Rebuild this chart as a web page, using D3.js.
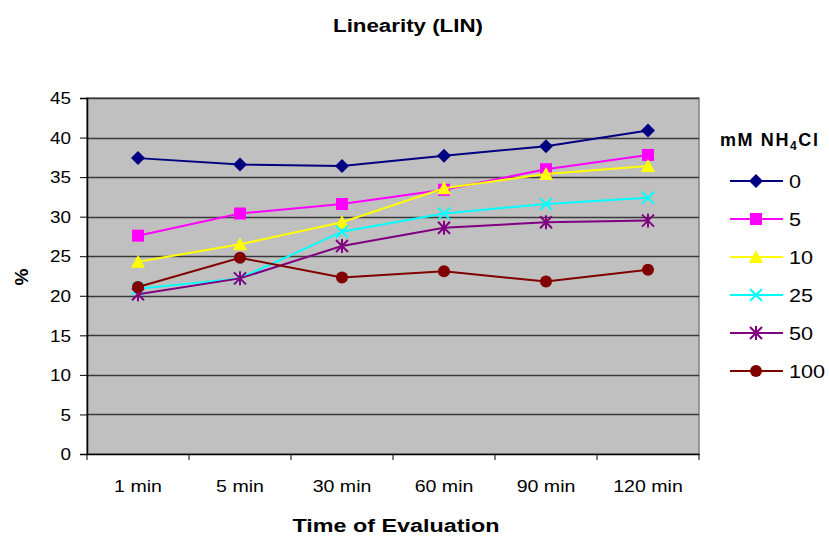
<!DOCTYPE html>
<html><head><meta charset="utf-8">
<script src="https://cdn.jsdelivr.net/npm/d3@7/dist/d3.min.js"></script>
<style>body{margin:0;background:#fff;} svg{display:block;font-family:"Liberation Sans",Arial,sans-serif;}</style>
</head><body><svg id="c" width="829" height="540"></svg>
<script>
const categories = ["1 min","5 min","30 min","60 min","90 min","120 min"];
const seriesNames = ["0","5","10","25","50","100"];
const s0   = [37.4, 36.6, 36.4, 37.7, 38.9, 40.9];
const s5   = [27.6, 30.4, 31.6, 33.4, 36.0, 37.8];
const s10  = [24.3, 26.5, 29.3, 33.6, 35.4, 36.4];
const s25  = [20.9, 22.2, 28.1, 30.4, 31.6, 32.4];
const s50  = [20.2, 22.2, 26.3, 28.6, 29.3, 29.5];
const s100 = [21.1, 24.8, 22.3, 23.1, 21.8, 23.3];
const yTicks = [0,5,10,15,20,25,30,35,40,45];
const colors = ["#000080","#ff00ff","#ffff00","#00ffff","#800080","#800000"];
const markers = ["diamond","square","triangle","x","star","circle"];
const allSeries = [s0,s5,s10,s25,s50,s100];

const svg = d3.select("#c");
const L=87, R=699, T=98, B=454;
const x = d3.scaleBand().domain(categories).range([L,R]);
const y = d3.scaleLinear().domain([0,45]).range([B,T]);

function stretch(sel, f){
  sel.each(function(){
    const w = this.getComputedTextLength();
    d3.select(this).attr("textLength", w*f).attr("lengthAdjust","spacingAndGlyphs");
  });
}

svg.append("text").attr("x",408).attr("y",32).attr("text-anchor","middle")
  .attr("font-weight","bold").attr("font-size",18).attr("textLength",150).attr("lengthAdjust","spacingAndGlyphs")
  .text("Linearity (LIN)");

svg.append("rect").attr("x",L).attr("y",T).attr("width",R-L).attr("height",B-T)
  .attr("fill","#c0c0c0").attr("stroke","#808080").attr("stroke-width",1.5);

svg.append("g").selectAll("line").data(yTicks.filter(d=>d>0)).join("line")
  .attr("x1",L).attr("x2",R).attr("y1",d=>Math.round(y(d))+0.5).attr("y2",d=>Math.round(y(d))+0.5)
  .attr("stroke","#3a3a3a").attr("stroke-width",1.3);

// y axis
const ya = svg.append("g").attr("transform",`translate(${L},0)`)
  .call(d3.axisLeft(y).tickValues(yTicks).tickSize(7).tickPadding(9));
ya.select(".domain").attr("stroke","#000").attr("stroke-width",1.5);
ya.selectAll(".tick line").attr("stroke","#000");
ya.selectAll("text").attr("font-size",16).attr("fill","#000").attr("font-family","Liberation Sans, Arial, sans-serif").attr("dy","0.36em");
stretch(ya.selectAll("text"),1.18);

// x axis
const xa = svg.append("g").attr("transform",`translate(0,${B})`)
  .call(d3.axisBottom(x).tickSize(0).tickPadding(26));
xa.select(".domain").attr("stroke","#000").attr("stroke-width",1.5);
xa.selectAll("text").attr("font-size",17).attr("fill","#000").attr("font-family","Liberation Sans, Arial, sans-serif");
stretch(xa.selectAll("text"),1.15);
const bounds = categories.map(c=>x(c)).concat([R]);
svg.append("g").selectAll("line").data(bounds).join("line")
  .attr("x1",d=>d).attr("x2",d=>d).attr("y1",B).attr("y2",B+6).attr("stroke","#000");

svg.append("text").attr("x",396).attr("y",532).attr("text-anchor","middle")
  .attr("font-weight","bold").attr("font-size",18).attr("textLength",207).attr("lengthAdjust","spacingAndGlyphs")
  .text("Time of Evaluation");
svg.append("text").attr("transform","translate(28,277) rotate(-90)").attr("text-anchor","middle")
  .attr("font-weight","bold").attr("font-size",19).text("%");

function drawMarker(g, type, cx, cy, color){
  const s=6;
  if(type==="diamond") g.append("path").attr("d",`M${cx},${cy-s-1}L${cx+s+1},${cy}L${cx},${cy+s+1}L${cx-s-1},${cy}Z`).attr("fill",color);
  else if(type==="square") g.append("rect").attr("x",cx-s).attr("y",cy-s).attr("width",2*s).attr("height",2*s).attr("fill",color);
  else if(type==="triangle") g.append("path").attr("d",`M${cx},${cy-s-1}L${cx+s+1},${cy+s}L${cx-s-1},${cy+s}Z`).attr("fill",color);
  else if(type==="x") g.append("path").attr("d",`M${cx-s},${cy-s}L${cx+s},${cy+s}M${cx-s},${cy+s}L${cx+s},${cy-s}`).attr("stroke",color).attr("stroke-width",2);
  else if(type==="star") g.append("path").attr("d",`M${cx-s},${cy-s}L${cx+s},${cy+s}M${cx-s},${cy+s}L${cx+s},${cy-s}M${cx},${cy-s-1}L${cx},${cy+s+1}`).attr("stroke",color).attr("stroke-width",2);
  else if(type==="circle") g.append("circle").attr("cx",cx).attr("cy",cy).attr("r",6).attr("fill",color);
}

const line = d3.line().x((d,i)=>x(categories[i])+x.bandwidth()/2).y(d=>y(d));
allSeries.forEach((vals,k)=>{
  const g = svg.append("g");
  g.append("path").attr("d",line(vals)).attr("fill","none").attr("stroke",colors[k]).attr("stroke-width",2);
  vals.forEach((v,i)=>drawMarker(g,markers[k],x(categories[i])+x.bandwidth()/2,y(v),colors[k]));
});

// legend
const lt = svg.append("text").attr("x",720).attr("y",146).attr("font-weight","bold").attr("font-size",18).attr("letter-spacing",1.6);
lt.append("tspan").text("mM NH");
lt.append("tspan").attr("font-size",12).attr("dy",4).text("4");
lt.append("tspan").attr("dy",-4).text("Cl");
seriesNames.forEach((n,k)=>{
  const ly = 181 + k*38;
  const g = svg.append("g");
  g.append("line").attr("x1",730).attr("x2",783).attr("y1",ly).attr("y2",ly).attr("stroke",colors[k]).attr("stroke-width",2);
  drawMarker(g,markers[k],756,ly,colors[k]);
  const t = g.append("text").attr("x",789).attr("y",ly+6.5).attr("font-size",18).text(n);
  stretch(t,1.2);
});
</script></body></html>
